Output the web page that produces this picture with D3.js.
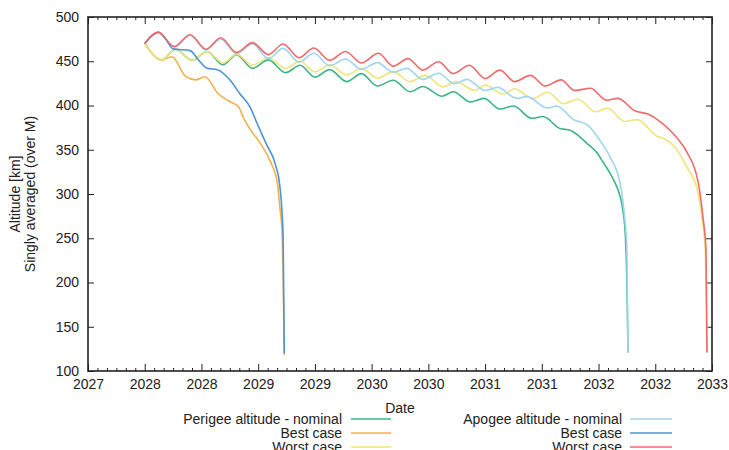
<!DOCTYPE html>
<html>
<head>
<meta charset="utf-8">
<script src="https://cdn.jsdelivr.net/npm/d3@7"></script>
<style>
  body { margin: 0; background: #fff; }
  svg { display: block; font-family: "Liberation Sans", Arial, sans-serif; }
</style>
</head>
<body>
<div id="container"></div>
<script>
// tick labels (gnuplot style: half-year ticks, year only)
const xTickValues = [2027.5, 2028, 2028.5, 2029, 2029.5, 2030, 2030.5, 2031, 2031.5, 2032, 2032.5, 2033];
const xTickLabels = ["2027", "2028", "2028", "2029", "2029", "2030", "2030", "2031", "2031", "2032", "2032", "2033"];
const yTickValues = [100, 150, 200, 250, 300, 350, 400, 450, 500];

// [decimal year, altitude km]
const perigeeNominal = [[2028.00,470],[2028.15,451.5],[2028.27,463.5],[2028.42,451],[2028.55,461],[2028.69,446],[2028.81,457.5],[2028.95,442],[2029.09,451.5],[2029.24,437],[2029.37,445.5],[2029.50,432],[2029.63,440.5],[2029.78,427],[2029.91,436],[2030.05,422],[2030.19,428.5],[2030.34,415.5],[2030.45,421.5],[2030.62,410.5],[2030.72,415.5],[2030.87,404],[2030.99,408],[2031.13,396],[2031.25,399.5],[2031.41,385.5],[2031.51,387.5],[2031.66,374],[2031.75,372],[2031.90,357],[2031.99,346],[2032.03,338],[2032.12,319],[2032.17,305],[2032.21,285],[2032.235,256],[2032.25,199],[2032.26,121]];
const perigeeBest = [[2028.00,470],[2028.15,451.5],[2028.24,455],[2028.36,433],[2028.45,429],[2028.53,432.5],[2028.65,413],[2028.75,404.5],[2028.83,398],[2028.87,386],[2028.93,373],[2029.03,355],[2029.11,336],[2029.17,312],[2029.19,286],[2029.21,257],[2029.22,210],[2029.23,118]];
const perigeeWorst = [[2028.00,470],[2028.15,451.5],[2028.27,463.5],[2028.42,451],[2028.55,461],[2028.69,448],[2028.81,458],[2028.95,445.5],[2029.09,454],[2029.24,442],[2029.37,450],[2029.50,438],[2029.63,446],[2029.78,434.5],[2029.91,442],[2030.05,431],[2030.19,438],[2030.34,427],[2030.47,434],[2030.63,421],[2030.74,427],[2030.91,417],[2031.00,423],[2031.16,413],[2031.26,419],[2031.42,408],[2031.55,415],[2031.69,402],[2031.82,407],[2031.97,393],[2032.08,397],[2032.23,382],[2032.34,384],[2032.52,365],[2032.57,363],[2032.69,350],[2032.78,330],[2032.87,305],[2032.91,274],[2032.94,237],[2032.956,121]];
const apogeeNominal = [[2028.00,470],[2028.12,482.5],[2028.26,466.5],[2028.40,479.5],[2028.54,463],[2028.67,475],[2028.81,458.5],[2028.95,469.5],[2029.09,453],[2029.22,464.5],[2029.36,449],[2029.49,459],[2029.63,445],[2029.77,452.5],[2029.91,441],[2030.05,448.5],[2030.19,437.5],[2030.31,442],[2030.45,429.5],[2030.59,436.5],[2030.73,424.5],[2030.84,429.5],[2031.00,417],[2031.11,420.5],[2031.28,408],[2031.37,410],[2031.55,397],[2031.63,399.5],[2031.78,384],[2031.90,378],[2032.01,361],[2032.10,342],[2032.19,312],[2032.23,274],[2032.25,237],[2032.26,121]];
const apogeeBest = [[2028.00,470],[2028.12,482.5],[2028.19,474],[2028.25,464],[2028.40,462],[2028.47,452],[2028.55,442],[2028.64,440.5],[2028.75,429],[2028.84,413],[2028.93,398],[2028.99,380],[2029.07,357],[2029.15,334],[2029.19,310],[2029.21,280],[2029.22,250],[2029.23,120]];
const apogeeWorst = [[2028.00,470],[2028.12,483],[2028.26,466.5],[2028.40,480],[2028.54,463.5],[2028.67,476.5],[2028.81,460],[2028.95,471],[2029.09,457.5],[2029.22,469.5],[2029.36,454],[2029.49,465],[2029.63,451],[2029.77,461],[2029.91,448],[2030.06,459],[2030.19,444.5],[2030.32,453],[2030.45,440],[2030.59,449.5],[2030.72,436],[2030.86,445.5],[2031.00,430.5],[2031.13,440],[2031.26,427],[2031.40,434],[2031.53,422],[2031.67,429],[2031.79,417],[2031.93,419.5],[2032.07,406],[2032.17,408],[2032.32,394],[2032.44,390],[2032.53,383],[2032.63,372],[2032.70,362],[2032.78,347],[2032.88,312],[2032.92,274],[2032.947,237],[2032.956,121]];

const seriesNames = ["Perigee altitude - nominal", "Best case", "Worst case", "Apogee altitude - nominal", "Best case", "Worst case"];
const seriesData = [perigeeNominal, perigeeBest, perigeeWorst, apogeeNominal, apogeeBest, apogeeWorst];
const colors = ["#3db48a", "#f2b14c", "#f1e479", "#9ed5f2", "#4e94d4", "#ef6a6a"];

const width = 729;
const height = 450;
const padding = { top: 17, bot: 79, left: 88, right: 17 };
const ink = "#222";

const svg = d3.select("#container")
              .append("svg")
              .attr("width", width)
              .attr("height", height);

const xScale = d3.scaleLinear()
                 .domain([2027.5, 2033])
                 .range([padding.left, width - padding.right]);
const yScale = d3.scaleLinear()
                 .domain([100, 500])
                 .range([height - padding.bot, padding.top]);

// monthly minor ticks
const minorTicks = d3.range(0, 67).map((k) => 2027.5 + k / 12).filter((d, k) => k % 6 != 0);

const styleAxis = (g) => {
  g.attr("color", ink)
   .attr("font-size", 14)
   .attr("font-family", "Liberation Sans, Arial, sans-serif");
  g.select(".domain").remove();
  g.selectAll("text").attr("fill", ink);
};

const yBot = height - padding.bot;
const xRight = width - padding.right;

svg.append("g")
   .attr("transform", "translate(0," + yBot + ")")
   .call(d3.axisBottom(xScale).tickValues(xTickValues).tickFormat((d, i) => xTickLabels[i]).tickSize(-7).tickPadding(8))
   .call(styleAxis);
svg.append("g")
   .attr("transform", "translate(0," + yBot + ")")
   .call(d3.axisBottom(xScale).tickValues(minorTicks).tickFormat("").tickSize(-3))
   .call(styleAxis);
svg.append("g")
   .attr("transform", "translate(0," + padding.top + ")")
   .call(d3.axisTop(xScale).tickValues(xTickValues).tickFormat("").tickSize(-7))
   .call(styleAxis);
svg.append("g")
   .attr("transform", "translate(0," + padding.top + ")")
   .call(d3.axisTop(xScale).tickValues(minorTicks).tickFormat("").tickSize(-3))
   .call(styleAxis);
svg.append("g")
   .attr("transform", "translate(" + padding.left + ",0)")
   .call(d3.axisLeft(yScale).tickValues(yTickValues).tickSize(-6).tickPadding(9))
   .call(styleAxis);
svg.append("g")
   .attr("transform", "translate(" + xRight + ",0)")
   .call(d3.axisRight(yScale).tickValues(yTickValues).tickFormat("").tickSize(-6))
   .call(styleAxis);

// curves
const line = d3.line()
               .x((d) => xScale(d[0]))
               .y((d) => yScale(d[1]))
               .curve(d3.curveMonotoneX);

svg.selectAll(".series")
   .data(seriesData)
   .enter()
   .append("path")
   .attr("class", "series")
   .attr("d", line)
   .attr("fill", "none")
   .attr("stroke", (d, i) => colors[i])
   .attr("stroke-width", 1.6)
   .attr("stroke-linejoin", "round");

// frame
svg.append("rect")
   .attr("x", padding.left)
   .attr("y", padding.top)
   .attr("width", xRight - padding.left)
   .attr("height", yBot - padding.top)
   .attr("fill", "none")
   .attr("stroke", ink)
   .attr("stroke-width", 1.6);

// axis titles
svg.append("text")
   .text("Altitude [km]")
   .attr("transform", "translate(20,194)rotate(-90)")
   .attr("text-anchor", "middle")
   .attr("font-size", 14)
   .attr("fill", ink);
svg.append("text")
   .text("Singly averaged (over M)")
   .attr("transform", "translate(35,194)rotate(-90)")
   .attr("text-anchor", "middle")
   .attr("font-size", 14)
   .attr("fill", ink);
svg.append("text")
   .text("Date")
   .attr("x", (padding.left + xRight) / 2)
   .attr("y", 413)
   .attr("text-anchor", "middle")
   .attr("font-size", 14)
   .attr("fill", ink);

// legend, two columns of three
const legendCols = [{ textEnd: 342, x0: 351, x1: 391 }, { textEnd: 622, x0: 630, x1: 672 }];
const legendRows = [419, 433, 447];
const legend = svg.selectAll(".legend-item")
                  .data(seriesNames)
                  .enter()
                  .append("g")
                  .attr("class", "legend-item");
legend.append("text")
      .text((d) => d)
      .attr("x", (d, i) => legendCols[Math.floor(i / 3)].textEnd)
      .attr("y", (d, i) => legendRows[i % 3] + 5)
      .attr("text-anchor", "end")
      .attr("font-size", 14)
      .attr("fill", ink);
legend.append("line")
      .attr("x1", (d, i) => legendCols[Math.floor(i / 3)].x0)
      .attr("x2", (d, i) => legendCols[Math.floor(i / 3)].x1)
      .attr("y1", (d, i) => legendRows[i % 3])
      .attr("y2", (d, i) => legendRows[i % 3])
      .attr("stroke", (d, i) => colors[i])
      .attr("stroke-width", 1.6);
</script>
</body>
</html>
